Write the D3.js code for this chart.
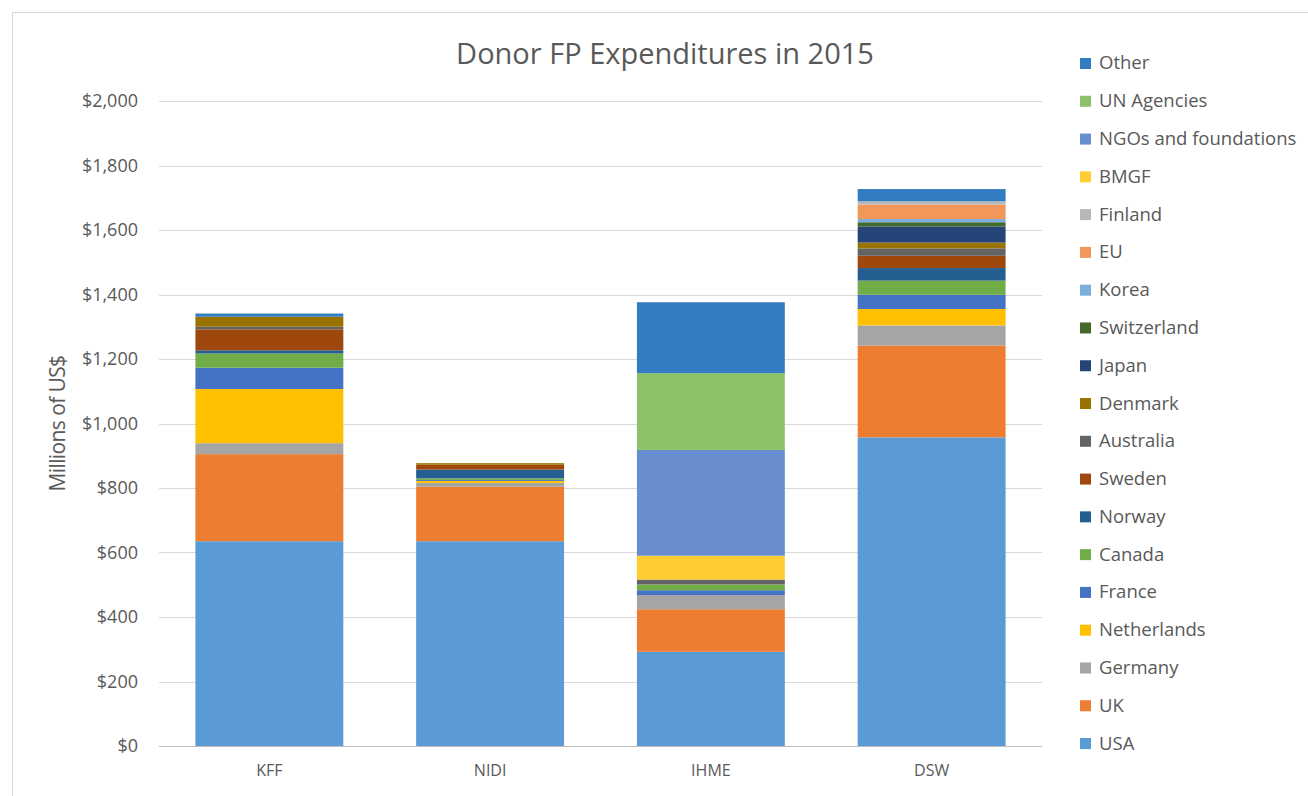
<!DOCTYPE html>
<html>
<head>
<meta charset="utf-8">
<script src="https://cdn.jsdelivr.net/npm/d3@7"></script>
<style>
    body { margin: 0; background: #fff; }
    svg { display: block; font-family: "Open Sans", "Liberation Sans", sans-serif; }
</style>
</head>
<body>
<svg id="chart" width="1308" height="796"></svg>
<script>
// data
let categories = ["KFF", "NIDI", "IHME", "DSW"]
let seriesNames = ["USA", "UK", "Germany", "Netherlands", "France", "Canada", "Norway", "Sweden",
    "Australia", "Denmark", "Japan", "Switzerland", "Korea", "EU", "Finland", "BMGF",
    "NGOs and foundations", "UN Agencies", "Other"]
let usa = [635, 635, 292, 957]
let uk = [270, 169, 132, 285]
let germany = [34, 12, 44, 62]
let netherlands = [168, 6, 0, 51]
let france = [66, 3, 15, 44]
let canada = [44, 5, 18, 44]
let norway = [10, 27, 0, 39]
let sweden = [65, 15, 0, 38]
let australia = [8, 0, 15, 23]
let denmark = [31, 5, 0, 18]
let japan = [0, 0, 0, 50]
let switzerland = [0, 0, 0, 13]
let korea = [0, 0, 0, 10]
let eu = [0, 0, 0, 45]
let finland = [0, 0, 0, 10]
let bmgf = [0, 0, 74, 0]
let ngos = [0, 0, 328, 0]
let unAgencies = [0, 0, 238, 0]
let other = [10, 0, 220, 38]
let yTicks = [0, 200, 400, 600, 800, 1000, 1200, 1400, 1600, 1800, 2000]

let seriesValues = [usa, uk, germany, netherlands, france, canada, norway, sweden, australia,
    denmark, japan, switzerland, korea, eu, finland, bmgf, ngos, unAgencies, other]
let colors = ["#5B9BD5", "#ED7D31", "#A5A5A5", "#FFC000", "#4472C4", "#70AD47", "#255E91",
    "#9E480E", "#636363", "#997300", "#264478", "#43682B", "#7CAFDD", "#F1975A", "#B7B7B7",
    "#FFCD33", "#698ED0", "#8CC168", "#327DC2"]

let svg = d3.select("#chart")
let margin = { left: 159, right: 266, top: 101, bottom: 50 }
let width = 1308, height = 796
let textColor = "#595959"
let font = '"Open Sans", "Liberation Sans", sans-serif'

// 外框
svg.append("rect")
    .attr("x", 12.5).attr("y", 12.5)
    .attr("width", width - 12).attr("height", height - 12)
    .attr("fill", "none")
    .attr("stroke", "#d9d9d9")

// 表格数据
let table = categories.map(function (c, i) {
    let row = { cat: c }
    seriesNames.forEach(function (s, j) { row[s] = seriesValues[j][i] })
    return row
})
let stacked = d3.stack().keys(seriesNames)(table)

// 比例尺
let xScale = d3.scaleBand()
    .domain(categories)
    .range([margin.left, width - margin.right])
    .paddingInner(0.33)
    .paddingOuter(0.165)
let yScale = d3.scaleLinear()
    .domain([0, 2000])
    .range([height - margin.bottom, margin.top])
let zScale = d3.scaleOrdinal().domain(seriesNames).range(colors)

// 网格线
svg.append("g")
    .selectAll("line")
    .data(yTicks)
    .enter()
    .append("line")
    .attr("x1", margin.left)
    .attr("x2", width - margin.right)
    .attr("y1", d => Math.round(yScale(d)) + 0.5)
    .attr("y2", d => Math.round(yScale(d)) + 0.5)
    .attr("stroke", d => d === 0 ? "#bfbfbf" : "#d9d9d9")

// y 轴
let yAxis = svg.append("g")
    .attr("transform", "translate(" + margin.left + ",0)")
    .call(d3.axisLeft(yScale).tickValues(yTicks).tickSize(0).tickPadding(21)
        .tickFormat(d => "$" + d3.format(",")(d)))
yAxis.attr("font-family", font)
yAxis.select(".domain").remove()
yAxis.selectAll("text")
    .attr("fill", textColor)
    .style("font-size", "18px")

// 绘制数据
svg.append("g")
    .selectAll("g")
    .data(stacked)
    .enter()
    .append("g")
    .attr("fill", d => zScale(d.key))
    .selectAll("rect")
    .data(d => d)
    .enter()
    .append("rect")
    .attr("x", d => xScale(d.data.cat))
    .attr("width", xScale.bandwidth())
    .attr("y", d => yScale(d[1]))
    .attr("height", d => yScale(d[0]) - yScale(d[1]))

// x 轴
let xAxis = svg.append("g")
    .attr("transform", "translate(0," + (height - margin.bottom) + ")")
    .call(d3.axisBottom(xScale).tickSize(0).tickPadding(19))
xAxis.attr("font-family", font)
xAxis.select(".domain").remove()
xAxis.selectAll("text")
    .attr("fill", textColor)
    .style("font-size", "16px")

// 标题
svg.append("text")
    .attr("x", 665)
    .attr("y", 64)
    .attr("text-anchor", "middle")
    .attr("fill", textColor)
    .style("font-size", "29px")
    .text("Donor FP Expenditures in 2015")

svg.append("text")
    .attr("transform", "translate(65," + ((margin.top + height - margin.bottom) / 2) + ") rotate(-90)")
    .attr("text-anchor", "middle")
    .attr("fill", textColor)
    .style("font-size", "21px")
    .style("letter-spacing", "-0.6px")
    .text("Millions of US$")

// 图例
let legendNames = seriesNames.slice().reverse()
let legend = svg.append("g")
    .selectAll("g")
    .data(legendNames)
    .enter()
    .append("g")
    .attr("transform", (d, i) => "translate(1080," + (63 + i * 37.78) + ")")
legend.append("rect")
    .attr("x", 0).attr("y", -5)
    .attr("width", 11).attr("height", 11)
    .attr("fill", d => zScale(d))
legend.append("text")
    .attr("x", 19)
    .attr("y", 0)
    .attr("dy", "0.35em")
    .attr("fill", textColor)
    .style("font-size", "18.5px")
    .text(d => d)
</script>
</body>
</html>
